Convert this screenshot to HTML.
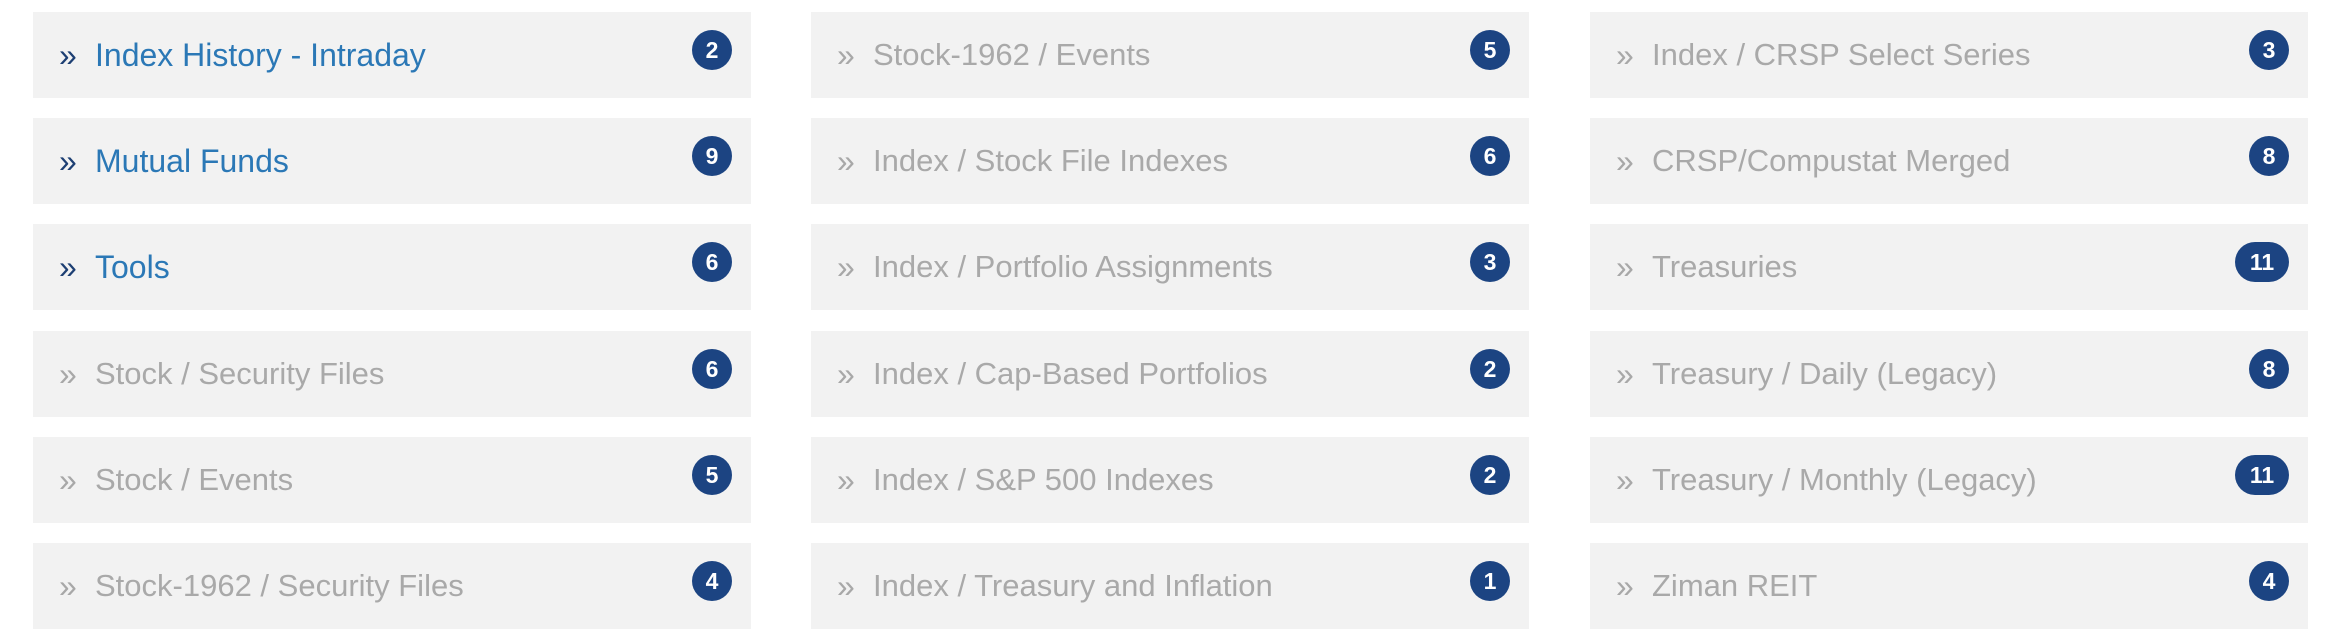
<!DOCTYPE html>
<html><head><meta charset="utf-8">
<style>
html,body{margin:0;padding:0;background:#fff;width:2330px;height:644px;overflow:hidden;font-family:"Liberation Sans",Arial,sans-serif;}
.item{position:absolute;width:718px;height:86px;background:#f2f2f2;}
.chev{position:absolute;left:26px;top:0;line-height:86px;font-size:32px;color:#a8a8a8;}
.lbl{position:absolute;left:62px;top:0;line-height:86px;font-size:31px;color:#a9a9a9;white-space:nowrap;}
.blue .lbl{color:#2b78b6;font-size:32px;}
.blue .chev{color:#1d3f73;}
.badge{position:absolute;top:18px;right:19px;min-width:40px;height:40px;border-radius:20px;background:#1c4482;color:#fff;font-weight:bold;font-size:23px;line-height:40px;text-align:center;box-sizing:border-box;padding:0 6px;}
.badge.wide{min-width:54px;}
</style></head><body>
<div id="root"></div>
<script>
const labels=[
["Index History - Intraday","Mutual Funds","Tools","Stock / Security Files","Stock / Events","Stock-1962 / Security Files"],
["Stock-1962 / Events","Index / Stock File Indexes","Index / Portfolio Assignments","Index / Cap-Based Portfolios","Index / S&P 500 Indexes","Index / Treasury and Inflation"],
["Index / CRSP Select Series","CRSP/Compustat Merged","Treasuries","Treasury / Daily (Legacy)","Treasury / Monthly (Legacy)","Ziman REIT"]];
const counts=[[2,9,6,6,5,4],[5,6,3,2,2,1],[3,8,11,8,11,4]];
const colLeft=[33,811,1590];
const root=document.getElementById('root');
for(let c=0;c<3;c++){for(let r=0;r<6;r++){
 const d=document.createElement('div');
 d.className='item'+(c===0&&r<3?' blue':'');
 d.style.left=colLeft[c]+'px';
 d.style.top=(12+r*106.2)+'px';
 
 
 const ch=document.createElement('span');ch.className='chev';ch.textContent='»';
 
 
 const l=document.createElement('span');l.className='lbl';l.textContent=labels[c][r];
 
 
 const b=document.createElement('span');b.className='badge'+(counts[c][r]>9?' wide':'');b.textContent=counts[c][r];
 
 
 d.appendChild(ch);d.appendChild(l);d.appendChild(b);root.appendChild(d);
}}
</script>
</body></html>
